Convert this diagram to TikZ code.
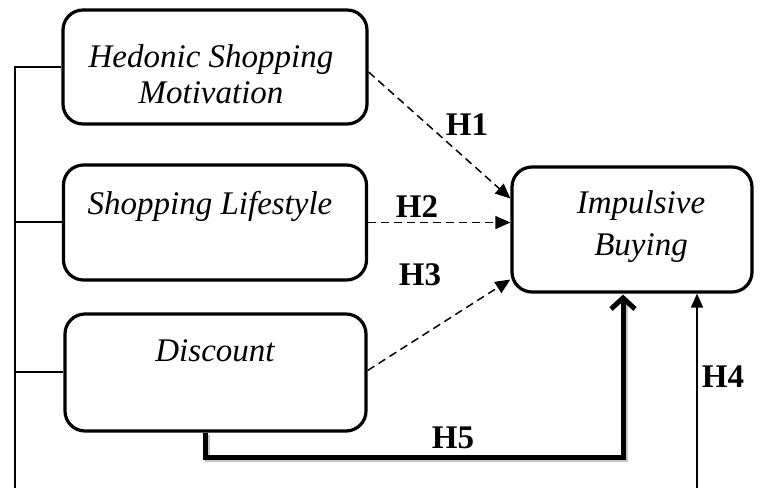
\documentclass[tikz,border=0pt]{standalone}
\usepackage{fontspec}
\setmainfont{Liberation Serif}
\usetikzlibrary{arrows.meta}
\begin{document}
\begin{tikzpicture}[x=1pt,y=-1pt,
  box/.style={draw, line width=3.2pt, rounded corners=20pt, inner sep=0pt},
  lbl/.style={font=\fontsize{33}{36}\selectfont\itshape, align=center, inner sep=0pt},
  hyp/.style={font=\fontsize{33}{36}\selectfont\bfseries, inner sep=0pt},
  thin line/.style={line width=1.5pt},
  dasharrow/.style={dashed, dash pattern=on 8pt off 5pt, line width=1.5pt, -{Triangle[length=15pt,width=13pt]}},
  thickarrow/.style={line width=5pt, -{Straight Barb[length=11pt,width=24pt]}},
  thinarrow/.style={line width=1.7pt, -{Triangle[length=14pt,width=12pt]}},
]
\useasboundingbox (0,0) rectangle (764,488);

% boxes
\node[box, minimum width=304pt, minimum height=114pt] (b1) at (215,67) {};
\node[box, minimum width=303pt, minimum height=115pt] (b2) at (215,222.5) {};
\node[box, minimum width=301pt, minimum height=117pt] (b3) at (215.5,372.5) {};
\node[box, minimum width=240pt, minimum height=125pt] (ib) at (632,229.5) {};

% texts
\node[lbl] (t1) at (211,74) {Hedonic Shopping\\Motivation};
\node[lbl, anchor=base] (t2) at (210,214) {Shopping Lifestyle};
\node[lbl, anchor=base] (t3) at (215,361) {Discount};
\node[lbl, font=\fontsize{33}{42}\selectfont\itshape] (t4) at (641,227) {Impulsive\\Buying};

% left bracket
\coordinate (lt) at (14,67);
\coordinate (lb) at (15,488);
\coordinate (l2) at (15,222);
\coordinate (l3) at (15,372);
\draw[thin line] (lt) -- (b1.west);
\draw[thin line] (15,67) -- (lb);
\draw[thin line] (l2) -- (l2 -| b2.west);
\draw[thin line] (l3) -- (l3 -| b3.west);

% dashed hypotheses
\draw[dasharrow] ([yshift=-5pt]b1.east) -- ([yshift=31pt]ib.west);
\draw[dasharrow] (b2.east) -- (b2.east -| ib.west);
\draw[dasharrow] ([yshift=2pt]b3.east) -- ([yshift=-50pt]ib.west);

% H5 thick arrow with shadow
\draw[line width=5pt, gray!45] ([xshift=2pt,yshift=-2pt]b3.south -| 205,0) -- (207,459) -- (625,459) -- (625,305);
\draw[thickarrow] (b3.south -| 205,0) |- (623,457) -- ([xshift=-9pt,yshift=-1pt]ib.south);

% H4 thin arrow
\coordinate (h4s) at (697,488);
\draw[thinarrow] (h4s) -- (h4s |- ib.south);

% labels
\node[hyp] (h1) at (467,125) {H1};
\node[hyp] (h2) at (417,207) {H2};
\node[hyp] (h3) at (420,275) {H3};
\node[hyp] (h4) at (723,377) {H4};
\node[hyp] (h5) at (453,438) {H5};
\end{tikzpicture}
\end{document}
